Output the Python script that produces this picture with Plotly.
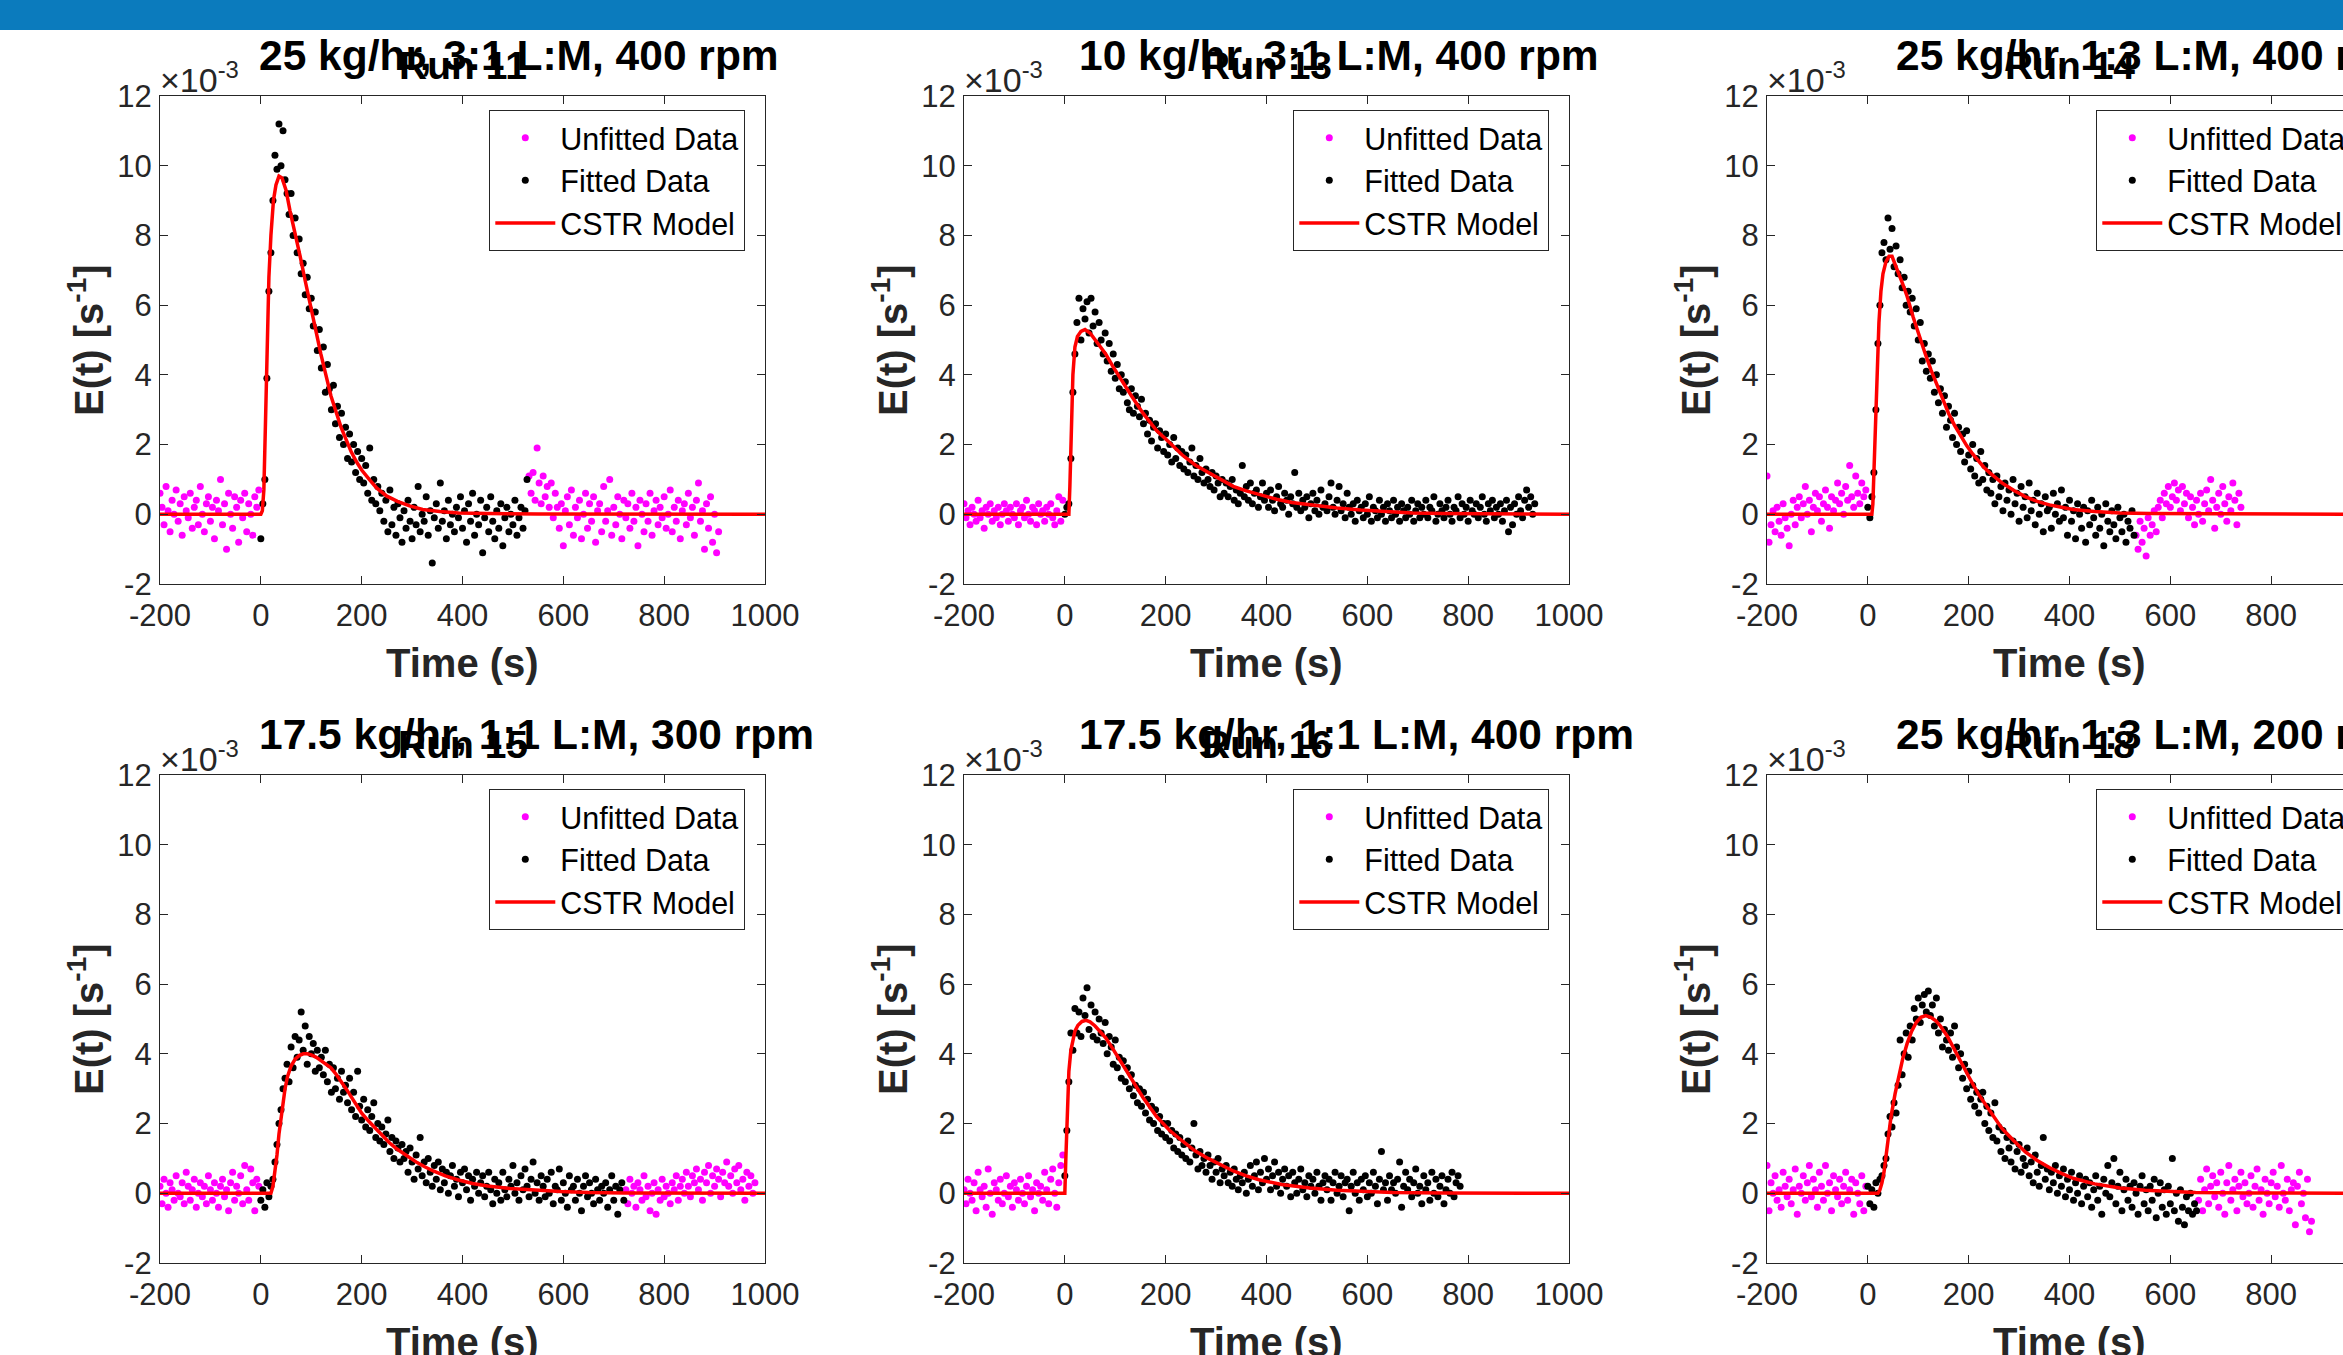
import plotly.graph_objects as go

# sampling grid of the tracer signal (s)
STEP = 4

# ---------------- Run 11 : 25 kg/hr, 3:1 L:M, 400 rpm ----------------
R11_UNF_T = list(range(-200, 0, STEP)) + list(range(532, 912, STEP))
R11_UNF_Y = [
    0.6, 0.2, -0.3, 0.8, 0.1, -0.5, 0.4, 0.0, 0.7, -0.2,
    0.3, -0.6, 0.5, 0.1, -0.1, 0.6, -0.4, 0.2, 0.4, -0.3,
    0.8, 0.0, -0.5, 0.3, 0.5, -0.2, 0.2, -0.7, 0.4, 0.1,
    1.0, -0.3, 0.3, -1.0, 0.6, 0.0, -0.4, 0.5, 0.2, -0.8,
    0.4, -0.1, 0.6, -0.5, 0.3, 0.0, -0.6, 0.5, 0.2, 0.7,
    1.1, 0.6, 1.2, 0.4, 1.9, 0.9, 0.3, 1.1, 0.5, 0.8,
    0.2, 0.9, -0.1, 0.6, 0.2, -0.4, 0.3, -0.9, 0.1, 0.5,
    -0.3, 0.7, -0.6, 0.2, -0.1, 0.4, -0.7, 0.0, 0.6, -0.4,
    0.3, -0.2, 0.5, -0.8, 0.1, 0.3, -0.5, 0.8, -0.2, 0.1,
    1.0, -0.6, 0.2, -0.3, 0.5, 0.0, -0.7, 0.4, -0.1, 0.3,
    -0.4, 0.6, -0.2, 0.2, -0.9, 0.4, 0.0, -0.5, 0.3, -0.2,
    0.6, -0.6, 0.1, 0.4, -0.3, 0.2, -0.1, 0.5, -0.4, 0.0,
    0.7, -0.5, 0.2, -0.2, 0.4, -0.7, 0.1, 0.3, -0.3, 0.6,
    -0.1, 0.2, -0.6, 0.4, 0.9, -0.2, 0.1, -1.0, 0.3, -0.4,
    0.5, -0.8, 0.0, -1.1, -0.5,
]
R11_FIT_T = list(range(0, 532, STEP))
R11_FIT_Y = [
    -0.7, 0.3, 1.0, 3.9, 6.4, 7.5, 9.0, 10.3, 9.9, 11.2,
    10.0, 11.0, 9.6, 9.2, 8.6, 9.2, 8.0, 8.5, 7.5, 7.9,
    6.9, 7.2, 6.3, 6.8, 5.9, 6.2, 5.4, 5.8, 4.7, 5.3,
    4.2, 4.8, 3.5, 4.3, 3.6, 3.0, 3.7, 2.6, 3.1, 2.2,
    2.9, 2.0, 2.5, 1.6, 2.3, 1.5, 2.0, 1.2, 1.8, 1.0,
    1.6, 0.9, 1.4, 0.6, 1.9, 0.4, 1.0, 0.3, 0.8, 0.1,
    0.6, -0.2, 0.4, -0.5, 0.7, -0.3, 0.2, -0.6, 0.3, -0.1,
    -0.8, 0.1, -0.4, 0.4, -0.2, -0.7, 0.2, -0.3, 0.8, -0.5,
    0.0, -0.2, 0.5, -0.6, 0.1, -1.4, -0.1, 0.3, -0.4, 0.9,
    -0.2, 0.1, -0.7, 0.4, -0.3, 0.0, -0.5, 0.2, -0.1, 0.5,
    -0.4, 0.1, -0.8, 0.3, -0.2, 0.6, -0.6, 0.0, -0.3, 0.4,
    -1.1, -0.1, 0.2, -0.5, 0.5, -0.2, -0.7, 0.1, -0.4, 0.3,
    -0.9, -0.1, 0.2, -0.5, 0.0, -0.3, 0.4, -0.6, -0.1, 0.2,
    -0.4, 0.1, 1.0,
]
R11_MOD_T = [-200, 0, 3, 6, 9, 12, 16, 20, 25, 30, 36, 42, 50, 58, 68, 78, 88, 98, 108, 119,
             129, 139, 149, 159, 169, 179, 190, 200, 215, 230, 250, 271, 295, 321, 355, 392, 450, 550, 1000]
R11_MOD_Y = [0, 0, 0.1, 0.7, 2.5, 4.5, 6.8, 8.0, 9.0, 9.45, 9.7, 9.65, 9.3, 8.7, 8.1, 7.4, 6.7, 6.0, 5.3, 4.6,
             4.0, 3.4, 2.95, 2.5, 2.15, 1.8, 1.5, 1.27, 1.0, 0.75, 0.52, 0.37, 0.24, 0.14, 0.08, 0.04, 0.02, 0.01, 0]

# ---------------- Run 13 : 10 kg/hr, 3:1 L:M, 400 rpm ----------------
R13_UNF_T = list(range(-200, 0, STEP))
R13_UNF_Y = [
    0.3, -0.1, 0.1, -0.3, 0.2, 0.0, -0.2, 0.4, -0.1, 0.1,
    -0.4, 0.2, 0.0, 0.3, -0.2, 0.1, -0.1, 0.2, -0.3, 0.0,
    0.3, 0.1, -0.2, 0.2, 0.0, -0.1, 0.3, -0.3, 0.1, 0.2,
    -0.1, 0.4, 0.0, -0.2, 0.2, 0.1, -0.3, 0.3, 0.0, 0.1,
    -0.2, 0.2, 0.0, 0.3, -0.1, -0.3, 0.1, 0.5, -0.2, 0.4,
]
R13_FIT_T = list(range(0, 936, STEP))
R13_FIT_Y = [
    0.0, 0.2, 0.3, 1.6, 3.5, 4.6, 5.5, 6.2, 5.0, 5.9,
    5.6, 6.1, 5.2, 6.2, 5.4, 5.8, 4.9, 5.5, 5.0, 4.6,
    5.2, 4.4, 4.9, 4.1, 4.6, 3.9, 4.3, 3.6, 4.0, 3.5,
    3.8, 3.2, 3.0, 3.6, 2.9, 3.4, 3.1, 2.8, 3.3, 2.6,
    2.9, 2.3, 2.7, 2.1, 2.5, 2.6, 1.9, 2.4, 2.2, 1.8,
    2.3, 1.7, 2.0, 1.5, 2.2, 1.6, 1.9, 1.4, 1.8, 1.3,
    1.7, 1.2, 1.5, 1.9, 1.1, 1.4, 1.0, 1.6, 1.2, 0.9,
    1.3, 1.0, 0.8, 1.2, 0.7, 1.1, 0.9, 0.5, 1.0, 0.6,
    0.9, 0.5, 0.8, 1.0, 0.4, 0.7, 0.3, 0.6, 1.4, 0.5,
    0.8, 0.4, 0.9, 0.3, 0.6, 0.7, 0.2, 0.5, 0.9, 0.4,
    0.6, 0.2, 0.7, 0.4, 0.1, 0.5, 0.8, 0.3, 0.2, 0.6,
    0.4, 0.0, 0.5, 0.3, 1.2, 0.2, 0.6, 0.1, 0.4, 0.2,
    0.5, -0.1, 0.3, 0.6, 0.1, 0.4, 0.0, 0.7, 0.2, 0.3,
    0.1, 0.5, 0.9, 0.2, 0.0, 0.4, 0.8, 0.1, 0.3, -0.1,
    0.6, 0.2, 0.0, 0.3, -0.2, 0.4, 0.1, 0.2, -0.1, 0.3,
    0.0, 0.5, -0.2, 0.2, 0.1, -0.1, 0.4, 0.0, 0.2, -0.2,
    0.3, 0.1, -0.1, 0.4, 0.0, 0.2, -0.2, 0.3, 0.1, -0.1,
    0.2, 0.0, 0.4, -0.2, 0.1, 0.3, -0.1, 0.2, 0.0, 0.4,
    -0.1, 0.2, 0.1, 0.5, -0.2, 0.0, 0.3, 0.1, -0.1, 0.2,
    0.4, 0.0, -0.2, 0.2, 0.1, 0.5, -0.1, 0.3, 0.0, 0.2,
    -0.2, 0.4, 0.1, 0.0, 0.3, -0.1, 0.2, 0.5, 0.0, -0.2,
    0.3, 0.1, 0.4, -0.1, 0.2, 0.0, 0.3, -0.2, 0.1, 0.4,
    -0.5, 0.2, -0.3, 0.3, 0.0, 0.5, 0.1, -0.1, 0.4, 0.7,
    0.2, 0.5, 0.0, 0.3,
]
R13_MOD_T = [-200, 8, 10, 13, 16, 20, 25, 32, 40, 50, 60, 70, 81, 95, 110, 132, 155, 182, 208, 233,
             260, 284, 310, 334, 360, 385, 420, 450, 486, 540, 587, 640, 689, 750, 850, 1000]
R13_MOD_Y = [0, 0, 0.8, 2.5, 4.0, 4.8, 5.1, 5.25, 5.3, 5.2, 5.0, 4.8, 4.6, 4.25, 3.9, 3.4, 2.9, 2.4, 2.05, 1.7,
             1.4, 1.2, 0.98, 0.8, 0.67, 0.56, 0.43, 0.34, 0.27, 0.18, 0.12, 0.07, 0.04, 0.02, 0.01, 0]

# ---------------- Run 14 : 25 kg/hr, 1:3 L:M, 400 rpm ----------------
R14_UNF_T = list(range(-200, 0, STEP)) + list(range(532, 744, STEP))
R14_UNF_Y = [
    1.1, -0.8, -0.3, 0.1, -0.5, 0.2, -0.2, -0.6, 0.3, -0.1,
    -0.4, -0.9, 0.0, 0.4, -0.3, 0.2, 0.5, -0.1, 0.3, 0.8,
    0.0, 0.4, -0.5, 0.2, 0.6, 0.1, 0.5, -0.2, 0.3, 0.7,
    0.2, -0.4, 0.5, 0.1, 0.4, 0.9, 0.3, 0.6, 0.0, 0.8,
    0.4, 1.4, 0.5, 0.2, 1.1, 0.6, 0.3, 0.9, 0.5, 0.7,
    -0.6, -1.0, -0.2, -0.8, -0.4, -1.2, -0.1, -0.6, -0.3, 0.1,
    -0.5, 0.2, 0.4, -0.1, 0.6, 0.3, 0.8, 0.2, 0.5, 0.9,
    0.4, 0.7, 0.1, 0.8, 0.3, 0.6, -0.1, 0.5, 0.2, -0.3,
    0.4, 0.0, 0.6, -0.2, 0.3, 0.7, 0.1, 1.0, 0.4, -0.4,
    0.2, 0.6, 0.0, 0.8, 0.3, -0.2, 0.5, 0.1, 0.9, 0.4,
    -0.3, 0.6, 0.2,
]
R14_FIT_T = list(range(0, 532, STEP))
R14_FIT_Y = [
    0.2, -0.1, 0.5, 1.2, 3.0, 4.9, 6.0, 7.5, 7.8, 7.3,
    8.5, 7.6, 8.2, 7.1, 7.7, 6.9, 7.3, 6.5, 6.8, 6.0,
    6.4, 5.8, 6.2, 5.4, 5.9, 5.0, 5.5, 4.4, 4.9, 4.1,
    4.6, 3.9, 4.4, 3.5, 4.0, 3.2, 3.6, 2.9, 3.4, 2.5,
    3.1, 2.7, 2.2, 2.9, 2.0, 2.5, 1.8, 2.3, 1.5, 2.4,
    1.7, 1.3, 2.0, 1.1, 1.6, 0.9, 1.8, 1.0, 1.4, 0.7,
    1.2, 0.6, 1.0, 0.3, 1.1, 0.5, 0.8, 0.1, 0.9, 0.4,
    0.7, 0.0, 1.0, 0.3, 0.6, -0.2, 0.8, 0.2, 0.5, -0.1,
    0.9, 0.1, 0.4, -0.3, 0.6, 0.0, 0.3, -0.5, 0.5, 0.1,
    0.2, -0.4, 0.6, 0.0, 0.3, -0.2, 0.7, -0.1, 0.2, -0.6,
    0.4, -0.2, 0.1, -0.7, 0.3, 0.0, -0.4, 0.2, -0.8, 0.1,
    -0.3, 0.4, -0.1, -0.6, 0.2, -0.4, 0.0, -0.9, 0.3, -0.2,
    -0.5, 0.1, -0.3, -0.7, 0.2, -0.1, -0.5, 0.0, -0.8, -0.2,
    -0.4, 0.1, -0.6,
]
R14_MOD_T = [-200, 8, 10, 14, 18, 22, 26, 30, 36, 42, 48, 54, 60, 68, 78, 90, 102, 114, 125, 137,
             148, 160, 172, 184, 196, 208, 219, 230, 242, 254, 266, 290, 313, 336, 360, 384, 407, 450, 500, 560,
             650, 1000]
R14_MOD_Y = [0, 0, 0.3, 2.0, 4.0, 5.5, 6.4, 6.9, 7.25, 7.4, 7.4, 7.2, 6.95, 6.65, 6.25, 5.65, 5.1, 4.6, 4.15, 3.7,
             3.3, 2.9, 2.55, 2.25, 1.97, 1.73, 1.53, 1.35, 1.19, 1.04, 0.9, 0.68, 0.5, 0.37, 0.27, 0.2, 0.14, 0.08, 0.04, 0.02,
             0.01, 0]

# ---------------- Run 15 : 17.5 kg/hr, 1:1 L:M, 300 rpm ----------------
R15_UNF_T = list(range(-200, 0, STEP)) + list(range(724, 984, STEP))
R15_UNF_Y = [
    0.2, -0.3, 0.4, 0.0, -0.4, 0.3, 0.1, -0.2, 0.5, 0.0,
    -0.1, 0.3, -0.3, 0.6, 0.2, -0.2, 0.1, 0.4, -0.4, 0.0,
    0.3, -0.1, 0.2, -0.3, 0.5, 0.1, -0.2, 0.3, 0.0, -0.4,
    0.2, 0.4, -0.1, 0.1, -0.5, 0.3, 0.6, -0.2, 0.2, 0.0,
    0.5, -0.3, 0.8, 0.1, -0.2, 0.7, 0.3, -0.5, 0.4, 0.2,
    0.1, -0.3, 0.4, 0.0, 0.2, -0.4, 0.3, 0.1, -0.2, 0.5,
    -0.1, 0.2, -0.5, 0.0, 0.3, -0.6, 0.1, -0.2, 0.4, -0.1,
    0.2, 0.0, -0.3, 0.3, 0.1, 0.5, -0.2, 0.2, 0.4, 0.0,
    0.6, 0.2, -0.1, 0.5, 0.3, 0.7, 0.1, 0.4, -0.2, 0.6,
    0.3, 0.8, 0.0, 0.5, 0.2, 0.7, 0.4, -0.1, 0.6, 0.3,
    0.9, 0.2, 0.5, 0.0, 0.7, 0.3, 0.8, 0.1, 0.4, -0.2,
    0.6, 0.2, 0.5, 0.0, 0.3,
]
R15_FIT_T = list(range(0, 724, STEP))
R15_FIT_Y = [
    -0.2, 0.1, -0.4, 0.3, -0.1, 0.2, 0.4, 0.9, 1.4, 2.0,
    2.4, 3.0, 3.3, 3.7, 3.2, 4.2, 3.6, 4.5, 3.9, 4.4,
    5.2, 4.1, 4.8, 3.7, 4.5, 4.0, 4.3, 3.5, 4.1, 3.6,
    3.9, 3.4, 4.1, 3.2, 3.7, 2.9, 3.6, 3.0, 3.3, 2.7,
    3.5, 2.9, 3.1, 2.6, 3.3, 2.4, 2.9, 2.2, 3.5, 2.5,
    2.1, 2.7, 1.9, 2.4, 1.8, 2.2, 2.6, 1.6, 2.0, 1.5,
    1.9, 1.4, 1.7, 2.1, 1.2, 1.6, 1.0, 1.5, 1.3, 0.9,
    1.4, 1.0, 1.2, 0.6, 1.3, 0.9, 0.4, 1.1, 0.7, 1.6,
    0.5, 0.9, 0.3, 1.0, 0.6, 0.2, 0.8, 0.4, 0.9, 0.1,
    0.7, 0.3, 0.6, 0.0, 0.5, 0.8, 0.2, 0.4, -0.1, 0.6,
    0.3, 0.7, 0.1, 0.5, -0.2, 0.4, 0.2, 0.6, 0.0, 0.3,
    0.5, -0.1, 0.2, 0.6, 0.1, -0.3, 0.4, 0.0, 0.3, -0.2,
    0.6, 0.1, -0.1, 0.4, 0.2, 0.8, 0.0, 0.3, -0.2, 0.5,
    0.1, 0.7, 0.2, -0.1, 0.4, 0.9, 0.0, 0.3, -0.2, 0.5,
    0.2, -0.1, 0.4, 0.0, 0.6, -0.3, 0.2, 0.1, 0.7, -0.2,
    0.3, 0.0, -0.4, 0.5, 0.1, 0.2, -0.2, 0.4, 0.0, -0.5,
    0.2, 0.5, -0.1, 0.3, 0.0, -0.3, 0.4, 0.1, -0.2, 0.2,
    0.0, 0.3, -0.4, 0.1, 0.5, -0.2, 0.2, -0.6, 0.1, 0.3,
    -0.2,
]
R15_MOD_T = [-200, 20, 24, 28, 32, 36, 40, 44, 48, 53, 60, 68, 76, 84, 92, 100, 110, 120, 130, 139,
             150, 160, 170, 180, 190, 200, 215, 228, 240, 255, 270, 291, 310, 325, 342, 366, 392, 420, 450, 494,
             540, 595, 650, 720, 1000]
R15_MOD_Y = [0, 0, 0.2, 0.6, 1.1, 1.7, 2.2, 2.65, 3.0, 3.35, 3.65, 3.85, 3.95, 4.0, 4.0, 3.97, 3.9, 3.8, 3.7, 3.6,
             3.4, 3.2, 2.98, 2.75, 2.5, 2.3, 2.05, 1.85, 1.66, 1.45, 1.27, 1.05, 0.88, 0.76, 0.64, 0.5, 0.38, 0.28, 0.21, 0.14,
             0.09, 0.05, 0.02, 0.01, 0]

# ---------------- Run 16 : 17.5 kg/hr, 1:1 L:M, 400 rpm ----------------
R16_UNF_T = list(range(-200, 0, STEP))
R16_UNF_Y = [
    0.1, -0.3, 0.4, 0.0, -0.2, 0.3, -0.5, 0.6, 0.1, -0.1,
    0.2, -0.4, 0.7, 0.0, -0.6, 0.3, 0.1, -0.2, 0.4, -0.3,
    0.0, 0.5, -0.1, 0.2, -0.4, 0.3, 0.1, -0.2, 0.4, 0.0,
    -0.3, 0.2, 0.5, -0.1, 0.1, -0.5, 0.3, 0.0, 0.2, -0.2,
    0.6, 0.1, -0.3, 0.4, 0.7, 0.0, -0.4, 0.3, 0.8, 1.1,
]
R16_FIT_T = list(range(0, 788, STEP))
R16_FIT_Y = [
    0.5, 1.8, 3.2, 4.6, 4.1, 5.3, 4.6, 5.2, 4.5, 5.6,
    5.1, 5.9, 4.7, 5.4, 4.5, 5.2, 4.4, 5.0, 4.6, 4.3,
    4.9, 4.0, 4.5, 4.2, 3.7, 4.4, 3.6, 3.9, 3.3, 3.8,
    3.2, 3.6, 3.0, 3.4, 2.8, 3.1, 2.6, 3.0, 2.5, 2.9,
    2.3, 2.7, 2.1, 2.5, 2.0, 2.4, 1.8, 2.2, 1.7, 2.0,
    1.6, 2.0, 1.5, 1.8, 1.3, 1.7, 1.2, 1.6, 1.1, 1.4,
    1.0, 1.5, 0.9, 1.3, 2.0, 1.1, 0.7, 1.2, 0.8, 1.0,
    0.6, 1.1, 0.8, 0.4, 0.9, 0.6, 1.0, 0.3, 0.7, 0.5,
    0.8, 0.3, 0.6, 0.2, 0.7, 0.4, 0.1, 0.5, 0.3, 0.6,
    0.0, 0.4, 0.8, 0.2, 0.5, 0.9, 0.1, 0.6, 0.3, 1.0,
    0.4, 0.7, 0.1, 0.5, 0.9, 0.2, 0.6, 0.0, 0.4, 0.7,
    0.2, 0.5, -0.1, 0.6, 0.3, 0.0, 0.4, 0.7, 0.1, 0.3,
    -0.1, 0.5, 0.2, 0.4, 0.0, 0.6, 0.2, -0.2, 0.3, 0.5,
    0.1, 0.4, -0.2, 0.3, 0.6, 0.0, 0.2, 0.5, -0.1, 0.3,
    0.4, -0.5, 0.2, 0.6, 0.0, 0.3, -0.2, 0.4, 0.1, 0.5,
    -0.1, 0.3, 0.0, 0.6, 0.2, -0.3, 0.4, 1.2, 0.1, 0.3,
    -0.2, 0.5, 0.1, 0.3, 0.0, 0.4, 0.9, -0.4, 0.2, 0.6,
    0.1, 0.4, -0.1, 0.3, 0.7, 0.0, 0.2, -0.3, 0.5, 0.1,
    0.3, -0.2, 0.6, 0.0, 0.4, -0.1, 0.2, 0.5, -0.3, 0.1,
    0.4, 0.0, 0.6, -0.1, 0.3, 0.5, 0.2,
]
R16_MOD_T = [-200, 0, 2, 5, 8, 12, 16, 20, 26, 34, 42, 50, 60, 70, 81, 95, 110, 132, 155, 182,
             208, 233, 258, 284, 310, 334, 360, 385, 430, 486, 540, 587, 650, 750, 1000]
R16_MOD_Y = [0, 0, 1.0, 2.6, 3.5, 4.1, 4.45, 4.65, 4.82, 4.93, 4.96, 4.92, 4.8, 4.65, 4.46, 4.15, 3.8, 3.3, 2.75, 2.2,
             1.8, 1.5, 1.22, 1.0, 0.8, 0.64, 0.5, 0.39, 0.25, 0.15, 0.09, 0.05, 0.02, 0.01, 0]

# ---------------- Run 18 : 25 kg/hr, 1:3 L:M, 200 rpm ----------------
R18_UNF_T = list(range(-200, 0, STEP)) + list(range(656, 884, STEP))
R18_UNF_Y = [
    0.8, -0.5, 0.3, 0.0, 0.5, -0.2, 0.1, -0.4, 0.6, 0.2,
    -0.1, 0.4, -0.3, 0.1, 0.7, -0.6, 0.2, 0.0, 0.5, -0.2,
    0.3, 0.8, -0.1, 0.4, 0.1, -0.4, 0.6, 0.2, -0.2, 0.8,
    0.0, 0.3, -0.5, 0.5, 0.1, -0.1, 0.4, -0.3, 0.2, 0.6,
    -0.2, 0.1, 0.4, -0.6, 0.3, 0.0, -0.3, 0.5, -0.5, 0.2,
    -0.2, 0.4, -0.5, 0.1, 0.7, -0.3, 0.2, 0.5, -0.1, 0.3,
    -0.4, 0.6, 0.0, -0.6, 0.3, 0.8, -0.2, 0.1, 0.4, -0.5,
    0.2, 0.6, -0.1, 0.3, -0.3, 0.0, 0.5, -0.4, 0.2, 0.7,
    -0.2, 0.1, -0.6, 0.4, 0.0, -0.3, 0.3, 0.6, -0.1, 0.2,
    -0.4, 0.8, 0.0, -0.2, 0.4, -0.5, 0.1, 0.3, -0.9, 0.2,
    0.6, -0.3, 0.0, -0.7, 0.4, -1.1, -0.8,
]
R18_FIT_T = list(range(0, 656, STEP))
R18_FIT_Y = [
    0.2, -0.3, 0.1, -0.4, 0.3, 0.0, 0.4, 0.5, 0.8, 1.0,
    1.7, 2.2, 1.9, 2.6, 2.3, 3.1, 4.4, 3.4, 4.0, 4.6,
    3.9, 4.8, 4.4, 5.3, 5.0, 5.6, 4.9, 5.4, 5.7, 5.2,
    5.8, 5.1, 5.4, 4.8, 5.6, 4.6, 5.0, 4.2, 4.7, 4.4,
    4.1, 4.6, 3.9, 4.8, 4.2, 3.6, 4.0, 3.3, 3.7, 3.0,
    3.5, 2.7, 3.1, 2.5, 2.9, 2.3, 2.7, 2.9, 2.0, 2.5,
    1.8, 2.3, 1.6, 2.6, 1.5, 1.9, 1.2, 1.8, 1.0, 1.6,
    1.3, 0.9, 1.5, 0.7, 1.2, 1.4, 0.6, 1.0, 0.8, 1.3,
    0.5, 0.9, 0.3, 1.1, 0.6, 0.2, 0.8, 1.6, 0.4, 0.7,
    0.1, 0.6, 0.3, 0.8, 0.0, 0.5, 0.2, 0.7, -0.1, 0.4,
    0.1, 0.6, -0.2, 0.3, 0.0, 0.5, -0.3, 0.2, 0.4, -0.1,
    0.3, -0.4, 0.1, 0.5, -0.2, 0.2, -0.6, 0.4, 0.0, 0.8,
    -0.1, 0.3, 1.0, -0.3, 0.2, 0.6, -0.5, 0.1, 0.4, -0.2,
    0.2, -0.4, 0.3, 0.0, -0.6, 0.2, 0.5, -0.3, 0.1, -0.5,
    0.2, -0.2, 0.4, -0.7, 0.0, 0.3, -0.4, 0.1, -0.6, 0.2,
    -0.3, 1.0, -0.5, 0.0, -0.8, 0.1, -0.4, -0.9, -0.1, -0.5,
    0.0, -0.6, -0.3, -0.5,
]
R18_MOD_T = [-200, 20, 24, 28, 32, 36, 40, 46, 54, 62, 69, 78, 87, 96, 105, 115, 125, 135, 144, 158,
             172, 186, 200, 219, 235, 250, 266, 290, 313, 336, 360, 384, 407, 450, 500, 550, 594, 650, 750, 1000]
R18_MOD_Y = [0, 0, 0.1, 0.3, 0.6, 1.1, 1.6, 2.2, 2.85, 3.4, 3.85, 4.3, 4.65, 4.9, 5.05, 5.1, 5.05, 4.95, 4.8, 4.5,
             4.1, 3.75, 3.35, 2.85, 2.5, 2.18, 1.86, 1.5, 1.18, 0.94, 0.74, 0.57, 0.43, 0.27, 0.15, 0.09, 0.05, 0.02, 0.01, 0]

TITLES = ["25 kg/hr, 3:1 L:M, 400 rpm", "10 kg/hr, 3:1 L:M, 400 rpm", "25 kg/hr, 1:3 L:M, 400 rpm",
          "17.5 kg/hr, 1:1 L:M, 300 rpm", "17.5 kg/hr, 1:1 L:M, 400 rpm", "25 kg/hr, 1:3 L:M, 200 rpm"]
RUN_LABELS = ["Run 11", "Run 13", "Run 14", "Run 15", "Run 16", "Run 18"]
X_TICKS = [-200, 0, 200, 400, 600, 800, 1000]
Y_TICKS = [-2, 0, 2, 4, 6, 8, 10, 12]

RUNS = [
    (R11_UNF_T, R11_UNF_Y, R11_FIT_T, R11_FIT_Y, R11_MOD_T, R11_MOD_Y),
    (R13_UNF_T, R13_UNF_Y, R13_FIT_T, R13_FIT_Y, R13_MOD_T, R13_MOD_Y),
    (R14_UNF_T, R14_UNF_Y, R14_FIT_T, R14_FIT_Y, R14_MOD_T, R14_MOD_Y),
    (R15_UNF_T, R15_UNF_Y, R15_FIT_T, R15_FIT_Y, R15_MOD_T, R15_MOD_Y),
    (R16_UNF_T, R16_UNF_Y, R16_FIT_T, R16_FIT_Y, R16_MOD_T, R16_MOD_Y),
    (R18_UNF_T, R18_UNF_Y, R18_FIT_T, R18_FIT_Y, R18_MOD_T, R18_MOD_Y),
]

# page geometry (pixels) - the figure is a screenshot, the right column is cut off
FIG_W, FIG_H = 2343, 1355
COL_LEFT = [160, 964, 1767]
COL_W = 605
ROW_TOP = [96, 775]
ROW_H = 488
TITLE_LEFT = [259, 1079, 1896]
FONT = "Liberation Sans, Arial, Helvetica, sans-serif"
AX_COLOR = "#262626"


def px_x(p):
    return p / FIG_W


def px_y(p):
    return 1 - p / FIG_H


fig = go.Figure()
annotations = []
layout_axes = {}

for i, (ut, uy, ft, fy, mt, my) in enumerate(RUNS):
    r, c = divmod(i, 3)
    n = i + 1
    sfx = "" if n == 1 else str(n)
    xa, ya, lg = "x" + sfx, "y" + sfx, "legend" + sfx

    fig.add_trace(go.Scatter(x=ut, y=uy, mode="markers", name="Unfitted Data",
                             marker=dict(color="#ff00ff", size=7), xaxis=xa, yaxis=ya, legend=lg))
    fig.add_trace(go.Scatter(x=ft, y=fy, mode="markers", name="Fitted Data",
                             marker=dict(color="#000000", size=7), xaxis=xa, yaxis=ya, legend=lg))
    fig.add_trace(go.Scatter(x=mt, y=my, mode="lines", name="CSTR Model",
                             line=dict(color="#ff0000", width=3.5), xaxis=xa, yaxis=ya, legend=lg))

    left, top = COL_LEFT[c], ROW_TOP[r]
    right = min(left + COL_W, FIG_W)
    xmax = -200 + (right - left) / COL_W * 1200
    cut = right < left + COL_W

    common = dict(showline=True, linecolor=AX_COLOR, linewidth=1.3, ticks="inside", ticklen=8,
                  tickwidth=1.3, tickcolor=AX_COLOR, showgrid=False, zeroline=False,
                  tickfont=dict(family=FONT, size=31, color=AX_COLOR))
    layout_axes["xaxis" + sfx] = dict(common, domain=[px_x(left), px_x(right)], range=[-200, xmax],
                                      anchor=ya, tickvals=X_TICKS, ticktext=[str(v) for v in X_TICKS],
                                      mirror="ticks", ticklabelstandoff=4)
    layout_axes["yaxis" + sfx] = dict(common, domain=[px_y(top + ROW_H), px_y(top)], range=[-2, 12],
                                      anchor=xa, tickvals=Y_TICKS, ticktext=[str(v) for v in Y_TICKS],
                                      mirror=False if cut else "ticks", ticklabelstandoff=1)
    layout_axes[lg] = dict(x=px_x(left + 329), y=px_y(top + 14), xanchor="left", yanchor="top",
                           bgcolor="#ffffff", bordercolor=AX_COLOR, borderwidth=1.3, itemwidth=60,
                           tracegroupgap=0, font=dict(family=FONT, size=30.5, color="#000000"))

    annotations += [
        dict(text="<b>" + TITLES[i] + "</b>", x=px_x(TITLE_LEFT[c] - 2), y=px_y(top - 41), xanchor="left",
             yanchor="middle", font=dict(family=FONT, size=42.5, color="#000000")),
        dict(text="<b>" + RUN_LABELS[i] + "</b>", x=px_x(left + COL_W / 2), y=px_y(top - 31),
             xanchor="center", yanchor="middle", font=dict(family=FONT, size=39, color="#000000")),
        dict(text="\u00d710<sup>-3</sup>", x=px_x(left - 2), y=px_y(top - 19), xanchor="left",
             yanchor="middle", font=dict(family=FONT, size=34, color=AX_COLOR)),
        dict(text="<b>E(t) [s<sup>-1</sup>]</b>", x=px_x(left - 74), y=px_y(top + ROW_H / 2),
             xanchor="center", yanchor="middle", textangle=-90,
             font=dict(family=FONT, size=40, color=AX_COLOR)),
        dict(text="<b>Time (s)</b>", x=px_x(left + COL_W / 2), y=px_y(top + ROW_H + 79),
             xanchor="center", yanchor="middle", font=dict(family=FONT, size=40, color=AX_COLOR)),
    ]

for a in annotations:
    a.update(xref="paper", yref="paper", showarrow=False)

fig.update_layout(
    width=FIG_W, height=FIG_H,
    margin=dict(l=0, r=0, t=0, b=0, pad=0, autoexpand=False),
    paper_bgcolor="#ffffff", plot_bgcolor="#ffffff",
    annotations=annotations,
    shapes=[dict(type="rect", xref="paper", yref="paper", x0=0, x1=1, y0=px_y(30), y1=1,
                 fillcolor="#0b7bbd", line=dict(width=0), layer="above")],
    **layout_axes,
)

# the page has a default 8px body margin: drop it so the figure sits at the window corner
fig.write_html("out.html", config={"displayModeBar": False},
               post_script="document.body.style.margin = '0';")
